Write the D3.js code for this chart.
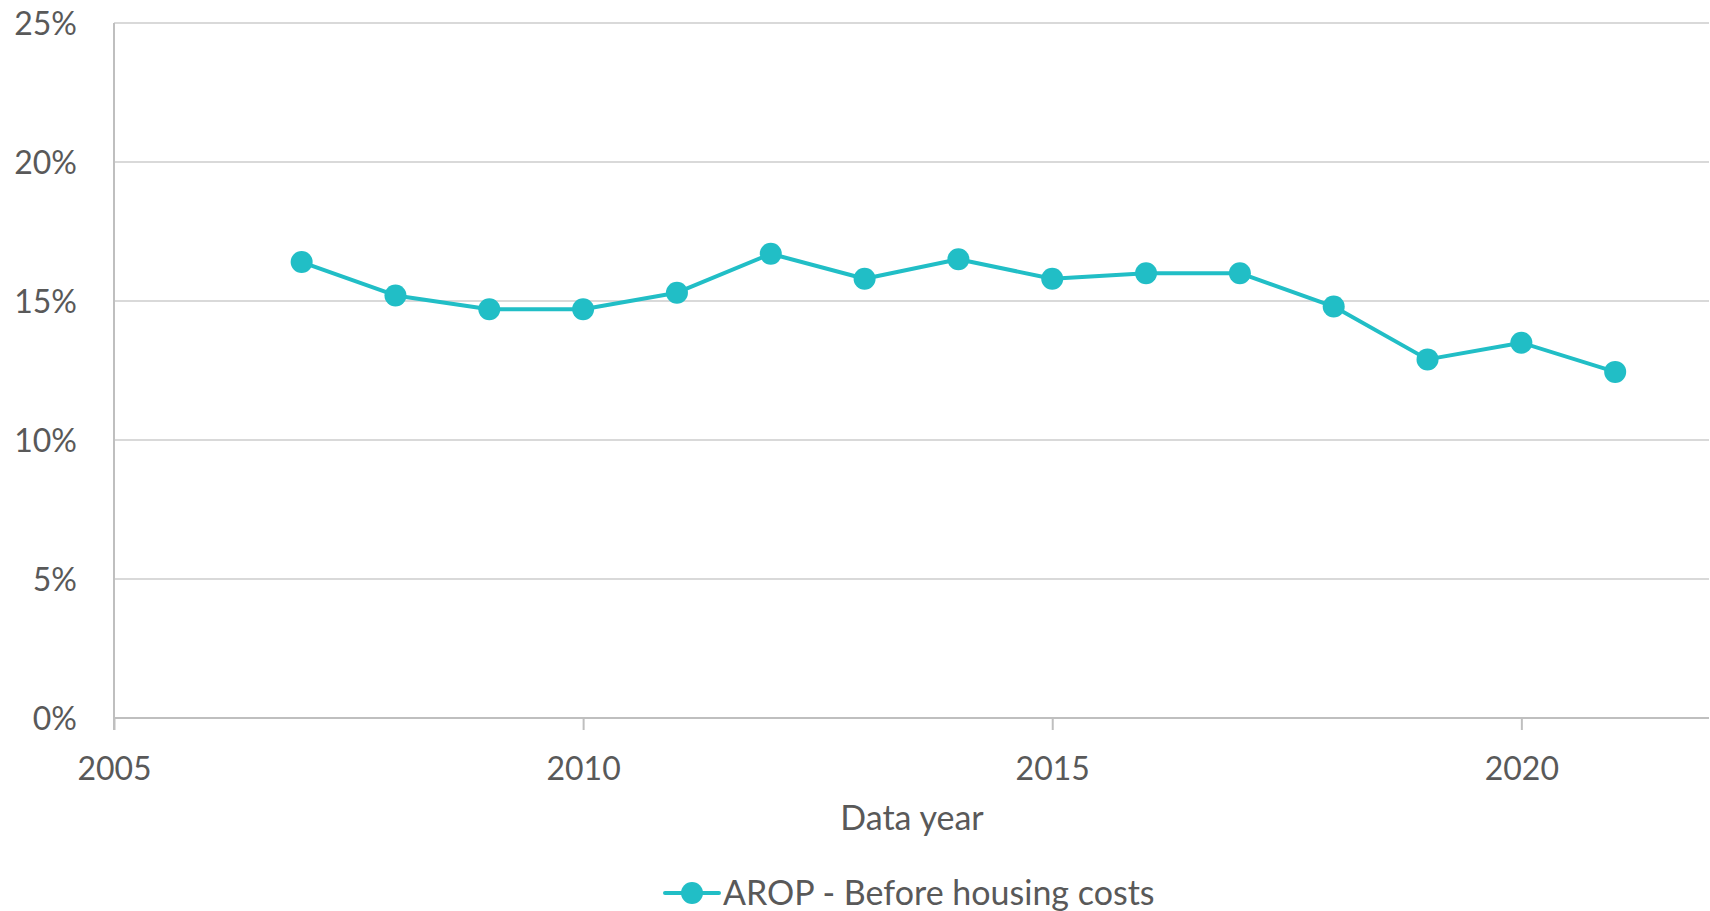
<!DOCTYPE html>
<html lang="en">
<head>
    <meta charset="UTF-8">
    <title>AROP - Before housing costs</title>
    <script src="https://d3js.org/d3.v7.min.js" charset="utf-8"></script>
    <style>
        body {
            margin: 0;
            background: #fff;
        }
        text {
            font-family: Lato, "Open Sans", sans-serif;
            fill: #595959;
        }
    </style>
</head>
<body>
    <script>
        var width = 1710;
        var height = 911;

        // data
        var years = [2007, 2008, 2009, 2010, 2011, 2012, 2013, 2014,
            2015, 2016, 2017, 2018, 2019, 2020, 2021];
        var arop = [16.4, 15.2, 14.7, 14.7, 15.3, 16.7, 15.8, 16.5,
            15.8, 16.0, 16.0, 14.8, 12.9, 13.5, 12.45];
        var xTicks = [2005, 2010, 2015, 2020];
        var yTicks = [0, 5, 10, 15, 20, 25];
        var seriesName = "AROP - Before housing costs";
        var xTitle = "Data year";

        var margin = {top: 23, right: 1, bottom: 193, left: 114};
        var color = "#21bec6";

        var svg = d3.select("body")
            .append("svg")
            .attr("width", width)
            .attr("height", height);

        var x = d3.scaleLinear()
            .domain([2005, 2022])
            .range([margin.left, width - margin.right]);

        var y = d3.scaleLinear()
            .domain([0, 25])
            .range([height - margin.bottom, margin.top]);

        // gridlines
        svg.append("g")
            .selectAll("line")
            .data(yTicks.slice(1))
            .enter()
            .append("line")
            .attr("x1", x.range()[0])
            .attr("x2", x.range()[1])
            .attr("y1", d => y(d))
            .attr("y2", d => y(d))
            .attr("stroke", "#d9d9d9")
            .attr("stroke-width", 2);

        // y axis
        var yAxis = svg.append("g")
            .attr("transform", "translate(" + margin.left + ",0)")
            .call(d3.axisLeft(y).tickValues(yTicks).tickSize(0).tickPadding(37)
                .tickFormat(d => d + "%"));
        yAxis.select(".domain").remove();
        yAxis.selectAll("text")
            .attr("font-size", 32)
            .attr("dy", "0.35em");

        svg.append("line")
            .attr("x1", margin.left).attr("x2", margin.left)
            .attr("y1", y(25)).attr("y2", y(0) + 12)
            .attr("stroke", "#bfbfbf")
            .attr("stroke-width", 2);

        // x axis
        var xAxis = svg.append("g")
            .attr("transform", "translate(0," + y(0) + ")")
            .call(d3.axisBottom(x).tickValues(xTicks).tickSize(12).tickPadding(23)
                .tickFormat(d3.format("d")));
        xAxis.select(".domain")
            .attr("d", "M" + x.range()[0] + ",0H" + x.range()[1])
            .attr("stroke", "#bfbfbf")
            .attr("stroke-width", 2);
        xAxis.selectAll(".tick line")
            .attr("stroke", "#bfbfbf")
            .attr("stroke-width", 2);
        xAxis.selectAll("text")
            .attr("font-size", 32)
            .attr("dy", "0.85em");

        svg.append("text")
            .attr("x", 912)
            .attr("y", 830)
            .attr("text-anchor", "middle")
            .attr("font-size", 34)
            .text(xTitle);

        // series
        var line = d3.line()
            .x((d, i) => x(years[i]))
            .y(d => y(d));

        svg.append("path")
            .datum(arop)
            .attr("fill", "none")
            .attr("stroke", color)
            .attr("stroke-width", 4)
            .attr("stroke-linejoin", "round")
            .attr("d", line);

        svg.append("g")
            .selectAll("circle")
            .data(arop)
            .enter()
            .append("circle")
            .attr("cx", (d, i) => x(years[i]))
            .attr("cy", d => y(d))
            .attr("r", 11)
            .attr("fill", color);

        // legend
        var legend = svg.append("g")
            .attr("transform", "translate(692,893)");
        legend.append("line")
            .attr("x1", -27).attr("x2", 27)
            .attr("stroke", color)
            .attr("stroke-width", 4)
            .attr("stroke-linecap", "round");
        legend.append("circle")
            .attr("r", 11)
            .attr("fill", color);
        legend.append("text")
            .attr("x", 31)
            .attr("y", 12)
            .attr("font-size", 34)
            .text(seriesName);
    </script>
</body>
</html>
